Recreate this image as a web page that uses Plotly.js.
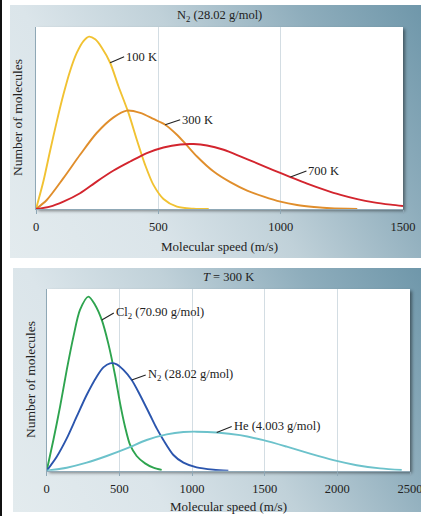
<!DOCTYPE html>
<html>
<head>
<meta charset="utf-8">
<script src="https://cdn.plot.ly/plotly-3.0.1.min.js"></script>
<style>
html,body{margin:0;padding:0;background:#fff;}
#wrap{position:relative;width:421px;height:516px;overflow:hidden;background:#fff;}
.strip{position:absolute;left:0;top:0;width:2px;height:516px;background:#111;}
.panel{position:absolute;background:linear-gradient(240deg,#6f97aa 0%,#8eadbc 22%,#c0d1d9 48%,#dbe5ea 72%,#e3ebee 100%);}
.shadow{position:absolute;background:#fff;box-shadow:2px 2px 3px rgba(0,0,0,0.45);}
#chart{position:absolute;left:0;top:0;width:421px;height:516px;}
</style>
</head>
<body>
<div id="wrap">
  <div class="strip"></div>
  <div class="panel" style="left:10px;top:5px;width:411px;height:253px;"></div>
  <div class="panel" style="left:13px;top:268px;width:408px;height:244px;"></div>
  <div class="shadow" style="left:36px;top:27px;width:367px;height:182px;"></div>
  <div class="shadow" style="left:47px;top:289px;width:363px;height:182px;"></div>
  <div id="chart"></div>
</div>
<script>
// ---- Top chart: N2 at three temperatures ----
const speeds100 = [0,30,57,85,112,139,167,194,217,242,269,303,337,378,412,446,480,521,576,644,706];
const count100  = [0,27.3,57.3,87.3,114,137.3,155.7,167.3,171.7,169,160.7,145.7,122.3,95.7,69,44,24,10,2.3,0.3,0];
const speeds300 = [0,44,112,180,248,317,371,426,480,528,576,617,658,726,794,863,931,999,1067,1136,1204,1313];
const count300  = [0,9,30.7,54,75.7,91.3,98,95.7,89.7,84,74,63.3,52.3,37.3,26.7,18.3,12.3,7.3,4,2,0.7,0];
const speeds700 = [0,57,112,180,248,317,385,453,521,590,644,699,767,835,904,972,1040,1108,1177,1245,1313,1381,1450,1500];
const count700  = [0,2.3,7.3,15.7,27.3,38.3,47.3,55.7,61.3,64.3,64.7,63.3,59,52.5,45.5,38.5,31.8,25.3,19.3,14,9.8,6.6,4.3,3];
const topTicks  = [0,500,1000,1500];
const topLabels = ['100 K','300 K','700 K'];
const topLabelIdx = [11,9,16];

// ---- Bottom chart: three gases at 300 K ----
const speedsCl2 = [0,46,92,138,184,229,287,333,379,424,470,505,539,574,619,677,734,791];
const countCl2  = [0,30.7,64,100.7,134,160.7,174,165.7,150.7,127,95.7,67.3,44,25.7,14.7,7.3,3,0.7];
const speedsN2  = [0,69,138,206,275,344,390,436,482,528,585,642,711,757,803,872,941,1032,1147,1250];
const countN2   = [0,14,32.3,54,75.7,94,103.3,107.3,106.3,100.7,90.7,75.7,55.7,42.3,30.7,15.7,8,3.3,1,0];
const speedsHe  = [0,138,275,413,551,688,826,941,1032,1170,1330,1491,1652,1812,1973,2133,2294,2443];
const countHe   = [0,3,8,14.7,22.3,30.7,36.3,38.7,39,38.2,35.5,30.5,24,17,10.5,5.5,2.3,0.7];
const botTicks  = [0,500,1000,1500,2000,2500];
const botLabels = ['Cl<sub>2</sub> (70.90 g/mol)','N<sub>2</sub> (28.02 g/mol)','He (4.003 g/mol)'];
const botLabelIdx = [8,10,9];

const W = 421, H = 516;
const FONT = 'Liberation Serif, Times New Roman, serif';
const TXT = '#222';
const px = v => v / W;
const py = v => 1 - v / H;

function line(x, y, color, xa, ya) {
  return {x: x, y: y, type: 'scatter', mode: 'lines', xaxis: xa, yaxis: ya,
          line: {color: color, width: 1.9, shape: 'spline', smoothing: 0.8},
          hoverinfo: 'skip', showlegend: false};
}

const data = [
  line(speeds100, count100, '#f1c232', 'x', 'y'),
  line(speeds300, count300, '#e08e2c', 'x', 'y'),
  line(speeds700, count700, '#d3252e', 'x', 'y'),
  line(speedsCl2, countCl2, '#2ea44f', 'x2', 'y2'),
  line(speedsN2,  countN2,  '#2b55ad', 'x2', 'y2'),
  line(speedsHe,  countHe,  '#6cc2cb', 'x2', 'y2')
];

const axisColor = '#8fa8b6';
function xaxis(domain, range, ticks, anchor) {
  return {domain: domain, range: range, anchor: anchor, tickvals: ticks,
          ticktext: ticks.map(String), showgrid: true, gridcolor: '#d3dde3', gridwidth: 1,
          zeroline: false, showline: true, linecolor: axisColor, linewidth: 1.2,
          ticks: 'outside', ticklen: 4, tickcolor: axisColor, ticklabelstandoff: 2,
          ticklabeloverflow: 'allow',
          tickfont: {family: FONT, size: 12.5, color: TXT}, fixedrange: true};
}
function yaxis(domain, anchor) {
  return {domain: domain, range: [0, 181.3], anchor: anchor, showgrid: false,
          zeroline: false, showline: true, linecolor: axisColor, linewidth: 1.2,
          showticklabels: false, ticks: '', fixedrange: true};
}

const annotations = [];
function txt(text, x, y, size, opts) {
  annotations.push(Object.assign({text: text, x: px(x), y: py(y), xref: 'paper', yref: 'paper',
    xanchor: 'center', yanchor: 'middle', showarrow: false,
    font: {family: FONT, size: size, color: TXT}}, opts || {}));
}
// Titles
txt('N<sub>2</sub> (28.02 g/mol)', 219.5, 16, 12.5);
txt('<i>T</i> = 300 K', 228, 277, 12.5);
txt('Molecular speed (m/s)', 219.5, 246.5, 13);
txt('Molecular speed (m/s)', 228.5, 506.5, 13);
txt('Number of molecules', 18, 118, 13.5, {textangle: -90});
txt('Number of molecules', 30, 380, 13.5, {textangle: -90});

function curveLabel(text, xs, ys, idx, xa, ya, ax, ay) {
  annotations.push({text: text, x: xs[idx], y: ys[idx], xref: xa, yref: ya,
    showarrow: true, arrowhead: 0, arrowwidth: 1.1, arrowcolor: '#222',
    ax: ax, ay: ay, xanchor: 'left', yanchor: 'middle', standoff: 0,
    font: {family: FONT, size: 12.5, color: TXT}});
}
curveLabel(topLabels[0], speeds100, count100, topLabelIdx[0], 'x', 'y', 14, -6);
curveLabel(topLabels[1], speeds300, count300, topLabelIdx[1], 'x', 'y', 15, -5);
curveLabel(topLabels[2], speeds700, count700, topLabelIdx[2], 'x', 'y', 16, -6);
curveLabel(botLabels[0], speedsCl2, countCl2, botLabelIdx[0], 'x2', 'y2', 12, -7);
curveLabel(botLabels[1], speedsN2,  countN2,  botLabelIdx[1], 'x2', 'y2', 14, -5);
curveLabel(botLabels[2], speedsHe,  countHe,  botLabelIdx[2], 'x2', 'y2', 15, -6);

const layout = {
  width: W, height: H, margin: {l: 0, r: 0, t: 0, b: 0},
  paper_bgcolor: 'rgba(0,0,0,0)', plot_bgcolor: '#ffffff', showlegend: false,
  xaxis:  xaxis([px(36), px(403)], [0, 1500], topTicks, 'y'),
  yaxis:  yaxis([py(209), py(27)], 'x'),
  xaxis2: xaxis([px(46.7), px(410)], [0, 2500], botTicks, 'y2'),
  yaxis2: yaxis([py(470.7), py(289.3)], 'x2'),
  annotations: annotations
};

Plotly.newPlot('chart', data, layout, {displayModeBar: false, staticPlot: true});
</script>
</body>
</html>
